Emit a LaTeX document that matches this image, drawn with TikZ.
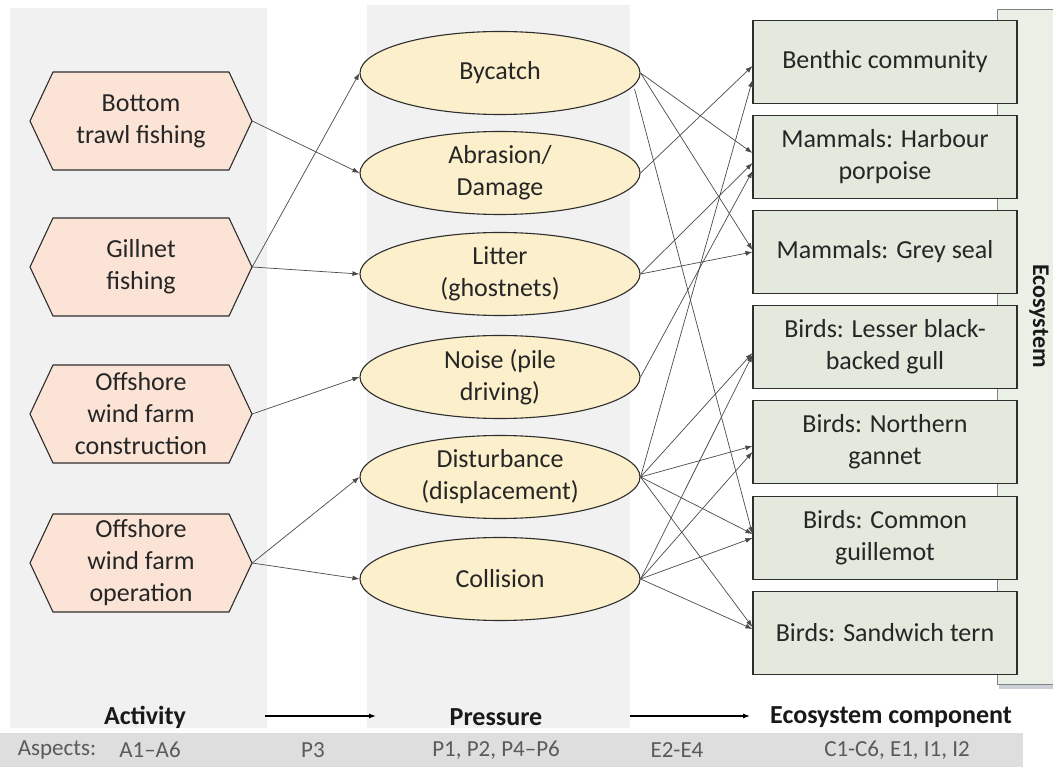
\documentclass[tikz,border=0pt]{standalone}
\usepackage{fontspec}
\setmainfont{Carlito}
\usetikzlibrary{shapes.geometric,arrows.meta,calc}
\definecolor{hexfill}{HTML}{FBE4D6}
\definecolor{ellfill}{HTML}{FCEFCB}
\definecolor{boxfill}{HTML}{E3E9DC}
\definecolor{panelfill}{HTML}{EAF0E5}
\definecolor{edge}{HTML}{2E2E2E}
\definecolor{conn}{HTML}{4A4A4A}
\definecolor{colbg}{HTML}{F1F1F1}
\definecolor{bandbg}{HTML}{DEDEDE}
\definecolor{aspecttxt}{HTML}{5A5A5A}
\definecolor{panelshadow}{HTML}{C9D0D8}
\newcommand\mainfs{\fontsize{26}{32}\selectfont}
\newcommand\hexagonat[2]{%
  \draw[hexdraw] (#1-111,#2) -- (#1-88,#2-49) -- (#1+88,#2-49) -- (#1+111,#2)
     -- (#1+88,#2+49) -- (#1-88,#2+49) -- cycle;}
\begin{document}
\begin{tikzpicture}[x=1pt,y=-1pt,
  hexdraw/.style={draw=edge, line width=1.1pt, fill=hexfill},
  actnode/.style={rectangle, minimum width=222pt, minimum height=98pt, inner sep=0pt, align=center, font=\mainfs, text=black!85},
  prenode/.style={ellipse, draw=edge, line width=1.1pt, fill=ellfill, minimum width=280pt, minimum height=83pt, inner sep=0pt, align=center, font=\mainfs, text=black!85},
  compnode/.style={rectangle, draw=edge, line width=1.1pt, fill=boxfill, minimum width=264pt, minimum height=83pt, inner sep=0pt, align=center, font=\mainfs, text=black!85},
  link/.style={draw=conn, line width=0.7pt, -{Latex[length=7pt,width=5pt]}},
  flow/.style={draw=black, line width=1.1pt, -{Latex[length=7pt,width=5pt]}},
  headlab/.style={font=\mainfs\bfseries, text=black!90},
  aspect/.style={font=\fontsize{23}{28}\selectfont, text=aspecttxt}
]
\useasboundingbox (0,0) rectangle (1053,767);
\fill[white] (0,0) rectangle (1053,767);
% background columns
\fill[colbg] (10,8) rectangle (267,728);
\fill[colbg] (367,5) rectangle (630,728);
% aspects band
\fill[bandbg] (0,733) rectangle (1023,767);
% ecosystem panel
\fill[panelshadow] (999,684) rectangle (1060,689);
\draw[draw=edge!60, line width=0.9pt, fill=panelfill] (997,9) rectangle (1070,684);
\node[font=\fontsize{24}{30}\selectfont\bfseries, rotate=-90, inner sep=0pt, text=black!90] (ecolab) at (1039,316) {Ecosystem};

% activities
\hexagonat{141}{121}
\hexagonat{141}{267}
\hexagonat{141}{414}
\hexagonat{141}{563}
\node[actnode] (trawl) at (141,121) {Bottom\\trawl fishing};
\node[actnode] (gill) at (141,267) {Gillnet\\fishing};
\node[actnode] (cons) at (141,414) {Offshore\\wind farm\\construction};
\node[actnode] (oper) at (141,563) {Offshore\\wind farm\\operation};

% pressures
\node[prenode] (byc) at (500,73) {Bycatch};
\node[prenode] (abr) at (500,173) {Abrasion/\\Damage};
\node[prenode] (lit) at (500,274) {Litter\\(ghostnets)};
\node[prenode] (noi) at (500,377) {Noise (pile\\driving)};
\node[prenode] (dis) at (500,477) {Disturbance\\(displacement)};
\node[prenode] (col) at (500,579) {Collision};

% components
\node[compnode] (ben) at (885,62) {Benthic community};
\node[compnode] (har) at (885,157) {Mammals: Harbour\\porpoise};
\node[compnode] (sea) at (885,252) {Mammals: Grey seal};
\node[compnode] (gul) at (885,347) {Birds: Lesser black-\\backed gull};
\node[compnode] (gan) at (885,442) {Birds: Northern\\gannet};
\node[compnode] (gui) at (885,538) {Birds: Common\\guillemot};
\node[compnode] (ter) at (885,633) {Birds: Sandwich tern};

% activity -> pressure
\draw[link] (trawl.east) -- (abr.west);
\draw[link] (gill.east) -- (byc.west);
\draw[link] (gill.east) -- (lit.west);
\draw[link] (cons.east) -- (noi.west);
\draw[link] (oper.east) -- (dis.west);
\draw[link] (oper.east) -- (col.west);

% pressure -> component
\draw[link] (byc.east) -- ([yshift=4pt]har.west);
\draw[link] (byc.east) -- ([yshift=2pt]sea.west);
\draw[link] ([xshift=-6pt,yshift=-16pt]byc.east) -- ([yshift=4pt]gui.west);
\draw[link] (abr.east) -- ([yshift=-4pt]ben.west);
\draw[link] (lit.east) -- ([yshift=-6pt]har.west);
\draw[link] (lit.east) -- ([yshift=0pt]sea.west);
\draw[link] (noi.east) -- ([yshift=-14pt]har.west);
\draw[link] (dis.east) -- ([yshift=-18pt]ben.west);
\draw[link] (dis.east) -- ([yshift=-6pt]gul.west);
\draw[link] (dis.east) -- ([yshift=-4pt]gan.west);
\draw[link] (dis.east) -- ([yshift=4pt]gui.west);
\draw[link] (dis.east) -- ([yshift=6pt]ter.west);
\draw[link] (col.east) -- ([yshift=-8pt]gul.west);
\draw[link] (col.east) -- ([yshift=-10pt]gan.west);
\draw[link] (col.east) -- ([yshift=0pt]gui.west);
\draw[link] (col.east) -- ([yshift=4pt]ter.west);

% bottom labels
\node[headlab] (actlab) at (145,717) {Activity};
\node[headlab] (prelab) at (496,717) {Pressure};
\node[headlab] (comlab) at (891,717) {Ecosystem component};
\coordinate (f1a) at (265,716);
\coordinate (f1b) at (376,716);
\coordinate (f2a) at (630,716);
\coordinate (f2b) at (750,716);
\draw[flow] (f1a) -- (f1b);
\draw[flow] (f2a) -- (f2b);

\node[aspect] (asp0) at (57,750) {Aspects:};
\node[aspect] (asp1) at (150,750) {A1–A6};
\node[aspect] (asp2) at (313,750) {P3};
\node[aspect] (asp3) at (496,750) {P1, P2, P4–P6};
\node[aspect] (asp4) at (677,750) {E2-E4};
\node[aspect] (asp5) at (897,750) {C1-C6, E1, I1, I2};
\end{tikzpicture}
\end{document}
